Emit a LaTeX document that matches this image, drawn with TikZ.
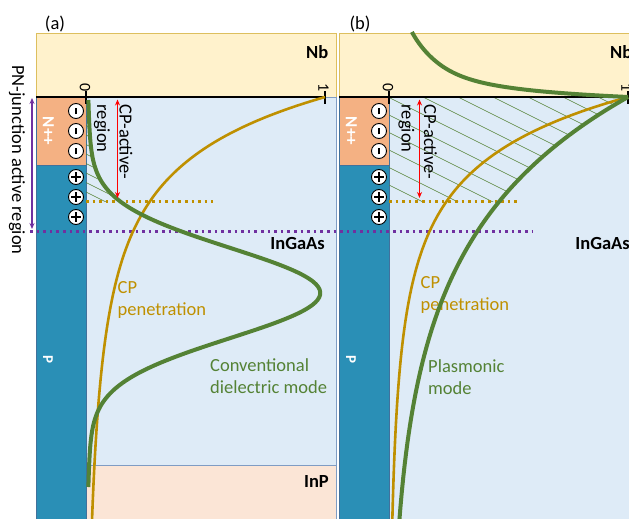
\documentclass[tikz,border=0pt]{standalone}
\usepackage{fontspec}
\setmainfont{Carlito}
\usetikzlibrary{arrows.meta}
\definecolor{nbfill}{HTML}{FFF2CC}
\definecolor{nbdraw}{HTML}{DDBF5E}
\definecolor{igafill}{HTML}{DEEBF7}
\definecolor{igadraw}{HTML}{7F9CC4}
\definecolor{inpfill}{HTML}{FBE5D6}
\definecolor{nppfill}{HTML}{F4B183}
\definecolor{pfill}{HTML}{2A8FB6}
\definecolor{pdraw}{HTML}{41719C}
\definecolor{gold}{HTML}{BF9000}
\definecolor{dgreen}{HTML}{548235}
\definecolor{purp}{HTML}{7030A0}
\definecolor{redarr}{HTML}{FF0000}
\begin{document}
\begin{tikzpicture}[x=1pt,y=-1pt,
  every node/.style={inner sep=0pt, font=\fontsize{18.5}{22.5}\selectfont},
  layerbox/.style={line width=0.8pt},
  chargeq/.style={circle, draw=black, fill=white, line width=0.9pt, minimum size=15pt},
  negcharge/.style={chargeq, path picture={\draw[line width=1.3pt] ([yshift=-3.4pt]path picture bounding box.center) -- ([yshift=3.4pt]path picture bounding box.center);}},
  poscharge/.style={chargeq, path picture={\draw[line width=1.5pt] ([yshift=-4.8pt]path picture bounding box.center) -- ([yshift=4.8pt]path picture bounding box.center) ([xshift=-4.8pt]path picture bounding box.center) -- ([xshift=4.8pt]path picture bounding box.center);}},
  hatchline/.style={dgreen, line width=0.6pt},
  goldcurve/.style={gold, line width=2.6pt},
  greencurve/.style={dgreen, line width=4pt},
  dots/.style={line width=2.5pt, dash pattern=on 2.6pt off 4pt},
  axisline/.style={black, line width=1.4pt},
  redarrow/.style={redarr, line width=1.6pt, {Stealth[length=6pt,width=5pt]}-{Stealth[length=6pt,width=5pt]}},
  purparrow/.style={purp, line width=1.5pt, {Stealth[length=6pt,width=5pt]}-{Stealth[length=6pt,width=5pt]}},
  matlabel/.style={font=\fontsize{18.5}{22.5}\selectfont\bfseries},
  ticklabel/.style={font=\fontsize{16}{19}\selectfont, rotate=-90, anchor=east},
  goldlabel/.style={gold, align=left, anchor=north west},
  greenlabel/.style={dgreen, align=left, anchor=north west},
  whitelabel/.style={white, rotate=-90}
]
\useasboundingbox (0,0) rectangle (629,519);
\clip (0,0) rectangle (629,519);

% ---------- panel (a) layers
\path[fill=nbfill, draw=nbdraw, layerbox] (36,33) rectangle (336,97);
\path[fill=igafill, draw=igadraw, layerbox] (86,97) rectangle (336,465);
\path[fill=inpfill, draw=igadraw, layerbox] (86,465) rectangle (336,525);
\path[fill=nppfill, draw=pdraw, layerbox] (36,97) rectangle (86,165);
\path[fill=pfill, draw=pdraw, layerbox] (36,165) rectangle (86,525);

% ---------- panel (b) layers
\path[fill=nbfill, draw=nbdraw, layerbox] (339,33) rectangle (660,97);
\path[fill=igafill, draw=igadraw, layerbox] (389,97) rectangle (660,525);
\path[fill=nppfill, draw=pdraw, layerbox] (339,97) rectangle (389,165);
\path[fill=pfill, draw=pdraw, layerbox] (339,165) rectangle (389,525);

% ---------- hatching (a)
\begin{scope}
\clip (86,97) rectangle (200,201.5);
\clip plot[domain=0:130, samples=60, smooth] ({86+239*(0.95*exp(-0.5*((\x-196)/45)^2)+0.03*exp(-0.5*((\x-196)/130)^2))}, {97+\x}) -- (86,227) -- (86,97) -- cycle;
\foreach \k in {-3,...,12} \draw[hatchline] (86,{97+9.5*\k}) -- ++(80,40);
\end{scope}

% ---------- hatching (b)
\begin{scope}
\clip (389,97) rectangle (640,201.5);
\clip (389,97) -- plot[domain=0:140, samples=50, smooth] ({389+239*exp(-\x/135)}, {97+\x}) -- (389,237) -- cycle;
\foreach \k in {-8,...,7} \draw[hatchline] ({423+35*\k},97) -- ++(300,150);
\end{scope}

% ---------- dotted lines
\coordinate (gda0) at (86,201.5);  \coordinate (gda1) at (213,201.5);
\coordinate (gdb0) at (389,201.5); \coordinate (gdb1) at (517,201.5);
\coordinate (pd0) at (30,231.5);   \coordinate (pd1) at (532,231.5);
\draw[gold, dots] (gda0) -- (gda1);
\draw[gold, dots] (gdb0) -- (gdb1);
\draw[purp, dots] (pd0) -- (pd1);

% ---------- axes and ticks
\coordinate (axa0) at (36,97);  \coordinate (axa1) at (325,97);
\coordinate (axb0) at (339,97); \coordinate (axb1) at (628,97);
\draw[axisline] (axa0) -- (axa1);
\draw[axisline] (axb0) -- (axb1);
\coordinate (ta0t) at (86,91);  \coordinate (ta0b) at (86,104);
\coordinate (ta1t) at (325,91); \coordinate (ta1b) at (325,104);
\coordinate (tb0t) at (389,91); \coordinate (tb0b) at (389,104);
\coordinate (tb1t) at (628,91); \coordinate (tb1b) at (628,104);
\draw[axisline] (ta0t) -- (ta0b);
\draw[axisline] (ta1t) -- (ta1b);
\draw[axisline] (tb0t) -- (tb0b);
\draw[axisline] (tb1t) -- (tb1b);
\node[ticklabel] (la0) at (85,91.5) {0};
\node[ticklabel] (la1) at (323.5,91.5) {1};
\node[ticklabel] (lb0) at (388,91.5) {0};
\node[ticklabel] (lb1) at (626.5,91.5) {1};

% ---------- labels
\node[goldlabel] (cpa) at (117.5,281) {CP\\penetration};
\node[goldlabel] (cpb) at (420.5,276) {CP\\penetration};
\node[greenlabel] (conv) at (210,358) {Conventional\\dielectric mode};
\node[greenlabel] (plas) at (428,359) {Plasmonic\\mode};

% ---------- curves (a)
\draw[goldcurve] plot[domain=0:424, samples=120, smooth] ({86+239*(0.7*exp(-\x/55)+0.3*exp(-\x/170))}, {97+\x});
\draw[greencurve] plot[domain=3:390, samples=150, smooth] ({86+239*(0.95*exp(-0.5*((\x-196)/45)^2)+0.03*exp(-0.5*((\x-196)/130)^2))}, {97+\x});

% ---------- curves (b)
\draw[goldcurve] plot[domain=0:424, samples=120, smooth] ({389+239*(0.72*exp(-\x/55)+0.28*exp(-\x/140))}, {97+\x});
\draw[greencurve] plot[domain=0:422, samples=100, smooth] ({389+239*exp(-\x/135)}, {97+\x});
\draw[greencurve] plot[domain=0:65, samples=60, smooth] ({389+239*(0.55*exp(-\x/7)+0.45*exp(-\x/42))}, {97-\x});

% ---------- charges
\node[negcharge] (na1) at (76,111) {};
\node[negcharge] (na2) at (76,131) {};
\node[negcharge] (na3) at (76,151) {};
\node[poscharge] (pa1) at (76,177) {};
\node[poscharge] (pa2) at (76,197) {};
\node[poscharge] (pa3) at (76,217) {};
\node[negcharge] (nb1) at (379,111) {};
\node[negcharge] (nb2) at (379,131) {};
\node[negcharge] (nb3) at (379,151) {};
\node[poscharge] (pb1) at (379,177) {};
\node[poscharge] (pb2) at (379,197) {};
\node[poscharge] (pb3) at (379,217) {};

% ---------- arrows
\coordinate (raa0) at (117.5,99.5); \coordinate (raa1) at (117.5,198);
\coordinate (rab0) at (419.5,99.5); \coordinate (rab1) at (419.5,198);
\coordinate (pua0) at (32,98);      \coordinate (pua1) at (32,229);
\draw[redarrow] (raa0) -- (raa1);
\draw[redarrow] (rab0) -- (rab1);
\draw[purparrow] (pua0) -- (pua1);

% ---------- rotated texts
\node[rotate=-90, align=left, anchor=north west] (cpaa) at (132.5,104.5) {CP-active-\\region};
\node[rotate=-90, align=left, anchor=north west] (cpab) at (437,104.5) {CP-active-\\region};
\node[rotate=-90] (pnj) at (17,160) {PN-junction active region};
\node[whitelabel, font=\fontsize{17}{20}\selectfont\bfseries] (npa) at (48.5,131) {N++};
\node[whitelabel, font=\fontsize{17}{20}\selectfont\bfseries] (npb) at (351.5,131) {N++};
\node[whitelabel, font=\fontsize{15}{18}\selectfont\bfseries] (ppa) at (48,359) {P};
\node[whitelabel, font=\fontsize{15}{18}\selectfont\bfseries] (ppb) at (351,359) {P};

% ---------- material labels
\node[matlabel, anchor=east] (nba) at (328.5,52) {Nb};
\node[matlabel, anchor=east] (nbb) at (632.5,52) {Nb};
\node[matlabel, anchor=east] (igaa) at (325,243.5) {InGaAs};
\node[matlabel, anchor=east] (igab) at (630,243.5) {InGaAs};
\node[matlabel, anchor=east] (inp) at (329,481) {InP};
\node (pana) at (55,24) {(a)};
\node (panb) at (360,24) {(b)};
\end{tikzpicture}
\end{document}
